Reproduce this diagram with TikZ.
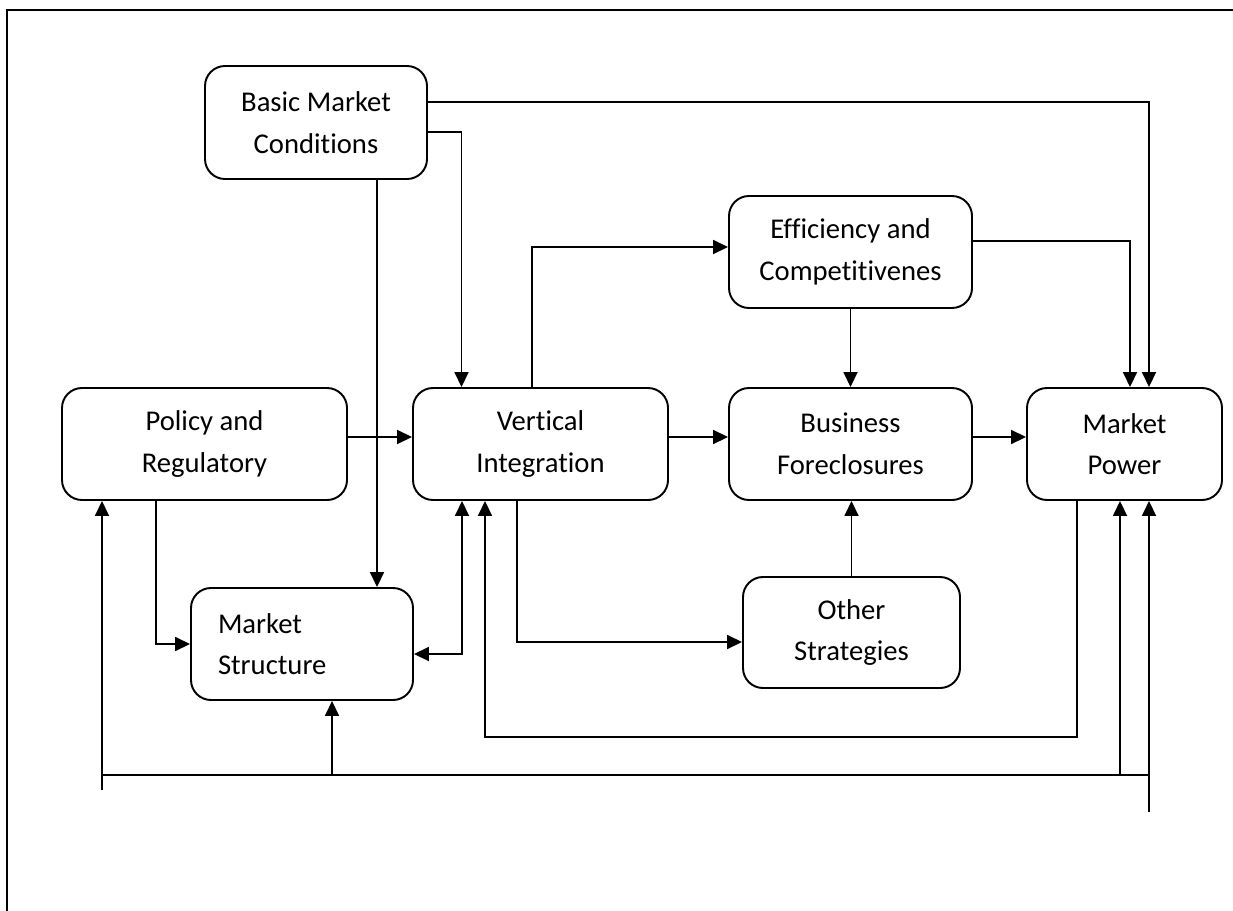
\documentclass[tikz,border=0pt]{standalone}
\usepackage{fontspec}
\setmainfont[Ligatures=NoCommon]{Carlito}
\usepackage{tikz}
\usetikzlibrary{
    arrows.meta
}

\begin{document}
\begin{tikzpicture}[
        >={Triangle[length=0.3cm,width=0.28cm]},
        box/.style={
            draw,
            rounded corners=0.4cm,
            line width=1.1pt,
            minimum height=2.24cm,
            align=center,
            font=\fontsize{16.3}{23.7}\selectfont
        },
        link/.style={
            line width=1pt
        }
    ]
        \useasboundingbox (0,0) rectangle (24.66,18.2);
        \draw[line width=1.4pt] (0.14,-0.5) -- (0.14,18.0) -- (25,18.0);

        % boxes
        \node[box, minimum width=4.44cm, minimum height=2.26cm] (BMC) at (6.32,15.75) {Basic Market\\Conditions};
        \node[box, minimum width=4.86cm] (EC) at (17.01,13.16) {Efficiency and\\Competitivenes};
        \node[box, minimum width=5.70cm] (PR) at (4.09,9.32) {Policy and\\Regulatory};
        \node[box, minimum width=5.10cm] (VI) at (10.81,9.32) {Vertical\\Integration};
        \node[box, minimum width=4.86cm] (BF) at (17.01,9.32) {Business\\Foreclosures};
        \node[box, minimum width=3.90cm] (MP) at (22.49,9.32) {Market\\Power};
        \node[box, align=left, text width=3.36cm, inner xsep=0.54cm] (MS) at (6.04,5.32) {Market\\Structure};
        \node[box, minimum width=4.34cm, minimum height=2.22cm] (OS) at (17.03,5.55) {Other\\Strategies};

        % feedback bus
        \coordinate (busL) at (2.04,2.40);
        \coordinate (busR) at (22.98,1.96);
        \coordinate (bus) at (0,2.70);
        \coordinate (loop) at (0,3.46);

        % links
        \draw[link, ->] ([yshift=0.41cm]BMC.east) -| ([xshift=0.49cm]MP.north);
        \draw[link, ->] ([yshift=-0.19cm]BMC.east) -| ([xshift=-1.58cm]VI.north);
        \draw[link, ->] ([xshift=1.22cm]BMC.south) -- ([xshift=1.22cm]BMC.south |- MS.north);
        \draw[link, ->] ([xshift=-0.17cm]VI.north) |- ([yshift=0.1cm]EC.west);
        \draw[link, ->] ([yshift=0.22cm]EC.east) -| ([xshift=0.11cm]MP.north);
        \draw[link, ->] (EC.south) -- (BF.north);
        \draw[link, ->] ([yshift=0.14cm]PR.east) -- ([yshift=0.14cm]VI.west);
        \draw[link, ->] ([yshift=0.14cm]VI.east) -- ([yshift=0.14cm]BF.west);
        \draw[link, ->] ([yshift=0.14cm]BF.east) -- ([yshift=0.14cm]MP.west);
        \draw[link, ->] (OS.north) -- (OS.north |- BF.south);
        \draw[link, ->] ([xshift=-0.47cm]VI.south) |- ([yshift=-0.19cm]OS.west);
        \draw[link, ->] ([xshift=-0.97cm]PR.south) |- (MS.west);
        \draw[link, <->] ([yshift=-0.2cm]MS.east) -| ([xshift=-1.57cm]VI.south);
        \draw[link, ->] ([xshift=-0.95cm]MP.south) -- ([xshift=-0.95cm]MP.south |- loop)
            -| ([xshift=-1.11cm]VI.south);

        \draw[link, ->] (busL) -- (busL |- PR.south);
        \draw[link, ->] (busR) -- (busR |- MP.south);
        \draw[link] (busL |- bus) -- (busR |- bus);
        \draw[link, ->] ([xshift=0.6cm]MS.south |- bus) -- ([xshift=0.6cm]MS.south);
        \draw[link, ->] ([xshift=-0.09cm]MP.south |- bus) -- ([xshift=-0.09cm]MP.south);
\end{tikzpicture}
\end{document}
